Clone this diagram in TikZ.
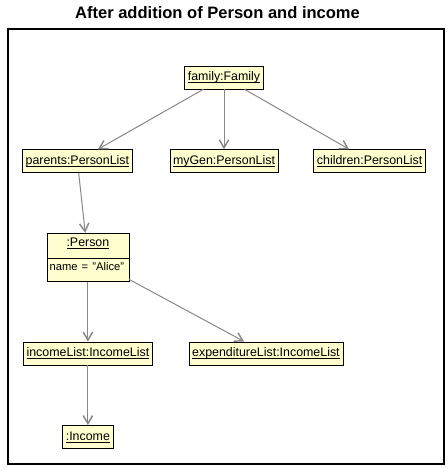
\documentclass[tikz,border=0pt]{standalone}
\usepackage{fontspec}
\setmainfont{Liberation Sans}
\usepackage{tikz}
\usetikzlibrary{positioning}
\usetikzlibrary{shapes.multipart}
\usetikzlibrary{arrows.meta}
\definecolor{objfill}{HTML}{FEFECE}
\definecolor{linkgray}{HTML}{888888}
\newcommand{\objfont}{\fontsize{9.3}{11}\selectfont}
\newcommand{\attrfont}{\fontsize{8.4}{10}\selectfont}
\newlength{\objnamewd}
\newcommand{\objname}[1]{\settowidth{\objnamewd}{#1}\rlap{\rule[-1.9pt]{\objnamewd}{0.7pt}}#1}
\tikzset{obj/.style={rectangle,draw=black,fill=objfill,font=\objfont,minimum height=17.25pt,inner xsep=2.4pt,inner ysep=0pt,text height=6.6pt,text depth=1.6pt}}
\tikzset{objsplit/.style={rectangle split,rectangle split parts=2,draw=black,fill=objfill,font=\objfont,text width=57.5pt,align=left,inner xsep=2pt,inner ysep=3pt}}
\tikzset{link/.style={draw=linkgray,line width=0.75pt,-{Straight Barb[length=6pt,width=7pt,line width=1.1pt]}}}
\tikzset{links/.style={every edge/.style=link}}

\begin{document}
\begin{tikzpicture}[x=0.75pt,y=-0.75pt]
  \useasboundingbox (0,0) rectangle (448,468);
  \node [font=\fontsize{12.4}{14}\selectfont\bfseries] (title) at (217.5,13) {After addition of Person and income};
  \draw [line width=1pt] (8,29) rectangle (444,464);

  \node [obj] (fam) at (224,77.5) {\objname{family:Family}};
  \node [obj,below=45pt of fam] (mygen) {\objname{myGen:PersonList}};
  \node [obj,left=27.75pt of mygen] (par) {\objname{parents:PersonList}};
  \node [obj,right=26.25pt of mygen] (chi) {\objname{children:PersonList}};
  \node [objsplit,below=45pt of par,xshift=7.9pt] (per)
  {
    \makebox[\linewidth][c]{\rule[-6pt]{0pt}{12.75pt}\objname{:Person}}
    \nodepart{second}
    \attrfont\rule[-4.5pt]{0pt}{9.75pt}name = "Alice"
  };
  \node [obj,below=45pt of per] (inc) {\objname{incomeList:IncomeList}};
  \node [obj,right=27pt of inc] (exp) {\objname{expenditureList:IncomeList}};
  \node [obj,below=45pt of inc] (inco) {\objname{:Income}};

  \path [links] (fam) edge (par)
                      edge (mygen)
                      edge (chi);
  \path [links] (par) edge (per);
  \path [links] (per) edge (inc)
                      edge (exp);
  \path [links] (inc) edge (inco);
\end{tikzpicture}
\end{document}
